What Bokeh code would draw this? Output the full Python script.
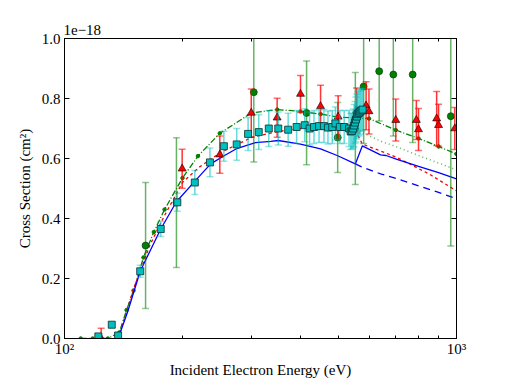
from bokeh.plotting import figure
from bokeh.models import (ColumnDataSource, LinearAxis, LogAxis, FixedTicker, Title,
                          CustomJSTickFormatter, PrintfTickFormatter, Range1d)
from bokeh.embed import file_html
from bokeh.resources import INLINE

# ---------------- data (cross section in units of 1e-18 cm^2) ----------------
# blue solid theory curve
blue_E = [137, 145, 156, 176, 193, 216, 236, 256, 276, 307, 336, 351, 400, 450, 496,
          552, 575, 640, 661, 705, 800, 900, 1000]
blue_y = [0.0, 0.09, 0.224, 0.365, 0.456, 0.527, 0.582, 0.61, 0.634, 0.653, 0.657, 0.66,
          0.648, 0.632, 0.61, 0.582, 0.642, 0.612, 0.61, 0.597, 0.574, 0.553, 0.532]
# blue dashed curve (above the edge)
bdash_E = [552, 575, 640, 700, 800, 900, 1000]
bdash_y = [0.582, 0.571, 0.549, 0.534, 0.509, 0.487, 0.466]
# red dash-dot curve
red_E = [137, 150, 165, 180, 200, 220, 250, 300, 350, 400, 450, 500, 545,
         575, 640, 700, 760, 860, 1000]
red_y = [0.0, 0.165, 0.31, 0.41, 0.52, 0.57, 0.62, 0.67, 0.69, 0.70, 0.705, 0.71, 0.71,
         0.648, 0.625, 0.605, 0.582, 0.545, 0.492]
# green dash-dot curve with points
gdd_E = [110, 118, 129, 138, 144, 150, 159, 169, 180, 200, 219, 249, 300, 349, 400, 450,
         500, 550, 598, 700, 800, 900, 1000]
gdd_y = [0.0, 0.0, 0.0, 0.02, 0.095, 0.16, 0.27, 0.355, 0.43, 0.535, 0.608, 0.684, 0.752,
         0.763, 0.757, 0.748, 0.738, 0.735, 0.733, 0.695, 0.667, 0.64, 0.615]
# green dotted curve (above the edge)
gdot_E = [565, 580, 640, 700, 800, 900, 1000]
gdot_y = [0.69, 0.684, 0.658, 0.64, 0.61, 0.585, 0.562]

# cyan squares (measurement set 1)
cyan_E = [122, 132, 137, 156, 176, 194, 215, 235, 255, 275, 294, 313, 332, 351, 372, 391,
          410, 422, 433, 446, 459, 470, 482, 491, 504, 517, 532, 537, 541, 545, 548, 551,
          554, 557, 560, 564, 568, 572, 576]
cyan_y = [0.007, 0.046, 0.01, 0.224, 0.365, 0.454, 0.52, 0.587, 0.641, 0.647, 0.682, 0.688,
          0.70, 0.70, 0.696, 0.705, 0.711, 0.70, 0.705, 0.708, 0.708, 0.703, 0.705, 0.717,
          0.705, 0.705, 0.70, 0.69, 0.692, 0.70, 0.71, 0.72, 0.73, 0.74, 0.748, 0.752,
          0.756, 0.76, 0.763]
cyan_err = [0.005, 0.01, 0.01, 0.02, 0.025, 0.03, 0.04, 0.048, 0.05, 0.053, 0.055, 0.058,
            0.06, 0.055, 0.055, 0.055, 0.055, 0.055, 0.055, 0.055, 0.055, 0.055, 0.055,
            0.055, 0.055, 0.055, 0.06, 0.06, 0.06, 0.065, 0.07, 0.07, 0.075, 0.075, 0.075,
            0.075, 0.075, 0.07, 0.07]

# red triangles (measurement set 2)
tri_E = [124, 199.6, 249, 299.5, 348.7, 400, 450, 499, 556, 588, 598, 700, 790, 800, 890,
         900, 990]
tri_y = [0.0, 0.566, 0.613, 0.752, 0.736, 0.815, 0.774, 0.739, 0.76, 0.776, 0.757, 0.728,
         0.728, 0.697, 0.733, 0.711, 0.70]
tri_err = [0.034, 0.065, 0.062, 0.08, 0.065, 0.062, 0.07, 0.07, 0.075, 0.08, 0.075, 0.07,
           0.065, 0.07, 0.09, 0.07, 0.07]

# green circles (measurement set 3)
gc_E = [161, 193, 304, 414.5, 497.6, 552, 579.6, 635, 690, 773, 967]
gc_y = [0.31, 0.453, 0.821, 0.752, 0.67, 0.70, 0.84, 0.891, 0.88, 0.88, 0.741]
gc_err = [0.21, 0.216, 0.233, 0.173, 0.117, 0.187, 0.19, 0.166, 0.205, 0.227, 0.433]

x_ticks = [100, 1000]
x_minor = [200, 300, 400, 500, 600, 700, 800, 900]
x_tick_labels = {100: "10\u00b2", 1000: "10\u00b3"}
y_ticks = [0.0, 0.2, 0.4, 0.6, 0.8, 1.0]
offset_text = "1e\u221218"

FONT = "Liberation Serif"
BLUE, RED, GREEN, CYAN = "#0000ff", "#ff0000", "#008000", "#00bfbf"

p = figure(width=507, height=380, x_axis_type="log", title=None,
           x_range=Range1d(100, 1000), y_range=Range1d(0, 1.0),
           output_backend="svg", toolbar_location=None,
           min_border_left=64, min_border_right=51,
           min_border_top=38, min_border_bottom=38)
p.grid.visible = False
p.outline_line_color = "black"
p.background_fill_color = "white"
p.border_fill_color = "white"

# ---- curves ----
p.line(gdd_E, gdd_y, line_color=GREEN, line_width=1.3, line_dash="6 2 1 2")
p.scatter(gdd_E, gdd_y, marker="circle", size=3.5, fill_color=GREEN, line_color=GREEN)
p.line(gdot_E, gdot_y, line_color=GREEN, line_alpha=0.6, line_width=1.6, line_dash="1 3")
p.line(red_E, red_y, line_color=RED, line_width=1.3, line_dash="3 3")
p.line(bdash_E, bdash_y, line_color=BLUE, line_width=1.3, line_dash="7 5")
p.line(blue_E, blue_y, line_color=BLUE, line_width=1.3)


def errbars(E, y, err, color, alpha):
    lo = [a - b for a, b in zip(y, err)]
    hi = [a + b for a, b in zip(y, err)]
    src = ColumnDataSource(dict(x=E, lo=lo, hi=hi))
    p.segment(x0="x", y0="lo", x1="x", y1="hi", source=src,
              line_color=color, line_alpha=alpha, line_width=1.5)
    p.scatter(x="x", y="lo", source=src, marker="dash", size=7,
              line_color=color, line_alpha=alpha * 0.7, line_width=1.5)
    p.scatter(x="x", y="hi", source=src, marker="dash", size=7,
              line_color=color, line_alpha=alpha * 0.7, line_width=1.5)


errbars(gc_E, gc_y, gc_err, GREEN, 0.6)
p.scatter(gc_E, gc_y, marker="circle", size=7, fill_color=GREEN, line_color="#003300",
          line_width=0.6)
errbars(tri_E, tri_y, tri_err, RED, 0.8)
p.scatter(tri_E, tri_y, marker="triangle", size=8, fill_color=RED, line_color="black",
          line_width=0.6)
errbars(cyan_E, cyan_y, cyan_err, CYAN, 0.6)
p.scatter(cyan_E, cyan_y, marker="square", size=7, fill_color=CYAN, line_color="#0a2f2f",
          line_width=0.8)

# ---- axes ----
def style_axis(ax):
    ax.axis_line_color = "black"
    ax.major_tick_line_color = "black"
    ax.minor_tick_line_color = "black"
    ax.major_tick_in = 5
    ax.major_tick_out = 0
    ax.minor_tick_in = 3
    ax.minor_tick_out = 0
    ax.major_label_text_font = FONT
    ax.major_label_text_font_size = "15px"
    ax.major_label_text_color = "black"
    ax.axis_label_text_font = FONT
    ax.axis_label_text_font_size = "15px"
    ax.axis_label_text_font_style = "normal"
    ax.axis_label_text_color = "black"


xa = p.xaxis[0]
xa.ticker = FixedTicker(ticks=x_ticks, minor_ticks=x_minor)
xa.major_label_overrides = x_tick_labels
xa.axis_label = "Incident Electron Energy (eV)"
style_axis(xa)
xa.major_label_standoff = 2
xa.axis_label_standoff = 2

ya = p.yaxis[0]
ya.ticker = FixedTicker(ticks=y_ticks)
ya.formatter = PrintfTickFormatter(format="%.1f")
ya.axis_label = "Cross Section (cm\u00b2)"
style_axis(ya)
ya.major_label_standoff = 4
ya.axis_label_standoff = 6

blank = CustomJSTickFormatter(code="return ''")
top = LogAxis(ticker=FixedTicker(ticks=x_ticks, minor_ticks=x_minor), formatter=blank)
style_axis(top)
top.major_label_standoff = 0
p.add_layout(top, "above")
right = LinearAxis(ticker=FixedTicker(ticks=y_ticks), formatter=blank)
style_axis(right)
p.add_layout(right, "right")

t = Title(text=offset_text, align="left", text_font=FONT, text_font_size="15px",
          text_font_style="normal", text_color="black", offset=-1, standoff=7)
p.add_layout(t, "above")

open("out.html", "w").write(file_html(p, INLINE))
